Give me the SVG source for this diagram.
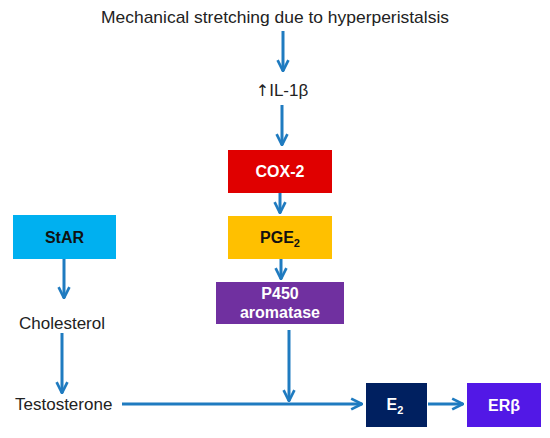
<svg xmlns="http://www.w3.org/2000/svg" width="550" height="438" viewBox="0 0 550 438">
<defs>
<marker id="ah" viewBox="0 0 10 10" refX="9" refY="5" markerWidth="4.5" markerHeight="4.5" orient="auto" markerUnits="strokeWidth">
<path d="M1,1 L9,5 L1,9" fill="none" stroke="#1F7BC0" stroke-width="2"/>
</marker>
<style>
.t{font-family:"Liberation Sans",Arial,sans-serif;font-size:17px;fill:#222;}
.b{font-family:"Liberation Sans",Arial,sans-serif;font-size:16px;font-weight:bold;fill:#fff;text-anchor:middle;}
.c line{stroke:#1F7BC0;stroke-width:3;marker-end:url(#ah);}
</style>
</defs>
<rect width="550" height="438" fill="#fff"/>
<g id="n_stretch"><text class="t" x="275" y="23" text-anchor="middle" textLength="348" lengthAdjust="spacingAndGlyphs">Mechanical stretching due to hyperperistalsis</text></g>
<g id="n_il1b"><text class="t" x="282" y="96" text-anchor="middle"><tspan font-family="DejaVu Sans" font-size="16">↑</tspan>IL-1β</text></g>
<g id="n_cox2"><rect x="228" y="150" width="104" height="43" fill="#E00000"/><text class="b" x="280" y="177">COX-2</text></g>
<g id="n_pge2"><rect x="228" y="216" width="104" height="43" fill="#FFC000"/><text class="b" x="280" y="243" style="fill:#111">PGE<tspan font-size="11" dy="4">2</tspan></text></g>
<g id="n_p450"><rect x="216" y="282" width="128" height="42" fill="#7030A0"/><text class="b" x="280" y="299">P450</text><text class="b" x="280" y="318">aromatase</text></g>
<g id="n_star"><rect x="13" y="215" width="103" height="44" fill="#00B0F0"/><text class="b" x="64.5" y="243" style="fill:#111">StAR</text></g>
<g id="n_chol"><text class="t" x="62" y="329" text-anchor="middle">Cholesterol</text></g>
<g id="n_testo"><text class="t" x="15" y="410">Testosterone</text></g>
<g id="n_e2"><rect x="366" y="383" width="61" height="44" fill="#002060"/><text class="b" x="395" y="410">E<tspan font-size="11" dy="4">2</tspan></text></g>
<g id="n_erb"><rect x="467" y="383" width="74" height="44" fill="#5218E6"/><text class="b" x="504" y="411">ERβ</text></g>
<g class="c" id="connectors">
<line x1="283" y1="31" x2="283" y2="71"/>
<line x1="282" y1="105" x2="282" y2="145"/>
<line x1="280" y1="193" x2="280" y2="213"/>
<line x1="281" y1="259" x2="281" y2="279"/>
<line x1="64" y1="259" x2="64" y2="298"/>
<line x1="62" y1="333" x2="62" y2="393"/>
<line x1="122" y1="404" x2="362" y2="404"/>
<line x1="289" y1="330" x2="289" y2="401"/>
<line x1="428" y1="404" x2="463" y2="404"/>
</g>
</svg>
